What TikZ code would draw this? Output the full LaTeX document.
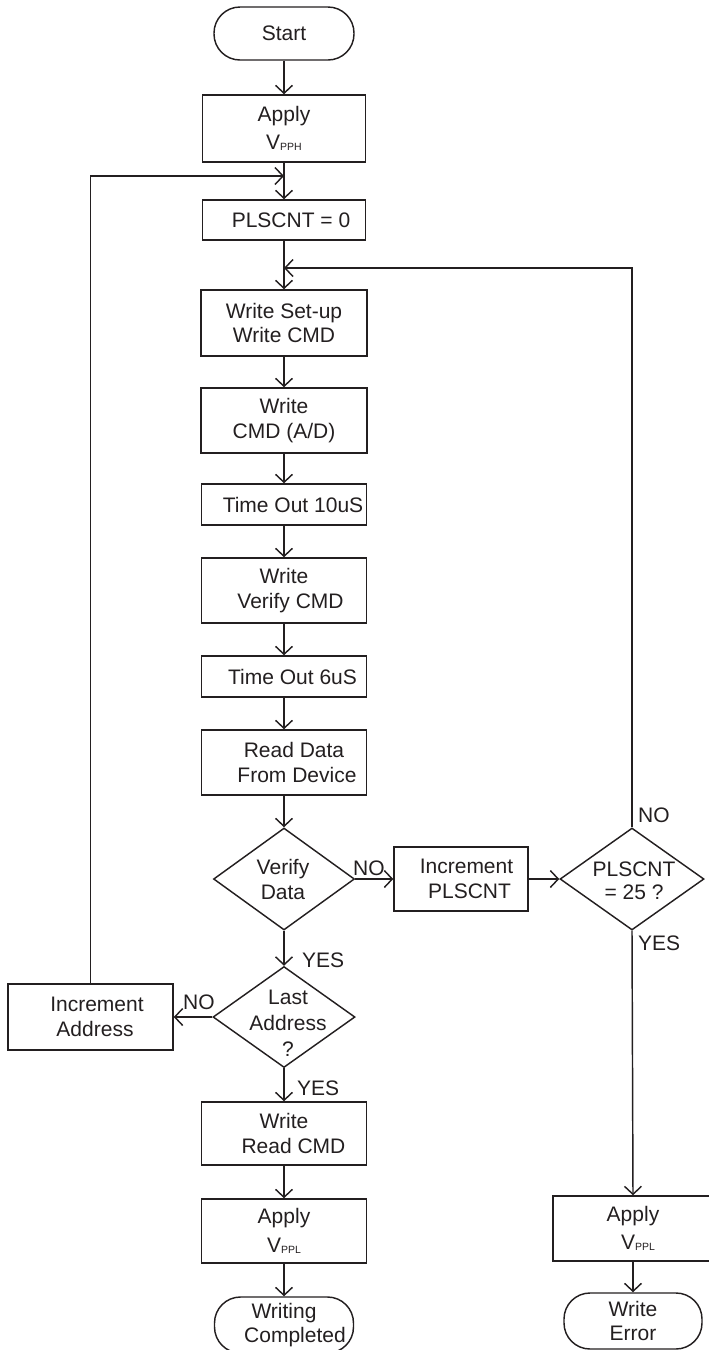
\documentclass[tikz,border=0pt]{standalone}
\usepackage{fontspec}
\setmainfont{Liberation Sans}
\usetikzlibrary{arrows.meta,shapes.geometric}
\definecolor{ink}{HTML}{231F20}
\newcommand\vsub[1]{{\fontsize{10.5}{10.5}\selectfont\raisebox{-1pt}{#1}}}
\begin{document}
\begin{tikzpicture}[x=1pt,y=-1pt,
  base/.style={draw=ink, line width=1.45pt, text=ink, font=\fontsize{21}{24.5}\selectfont, align=center, inner sep=0pt},
  procbox/.style={base, rectangle},
  applybox/.style={base, rectangle, font=\fontsize{21}{28.5}\selectfont},
  termbox/.style={base, rectangle, rounded corners=26pt},
  diabox/.style={base, diamond},
  dtext/.style={text=ink, align=center, inner sep=0pt},
  lbl/.style={text=ink, font=\fontsize{21}{24}\selectfont, inner sep=0pt, anchor=west},
  arr/.style={draw=ink, line width=1.45pt, -{Straight Barb[length=8pt,width=17pt]}},
]
\useasboundingbox (0,0) rectangle (709,1350);

% main column
\node[termbox, minimum width=140pt, minimum height=53pt] (start) at (284,33.5) {Start};
\node[applybox, minimum width=163pt, minimum height=67pt] (apph) at (284,128.5) {Apply\\V\vsub{PPH}};
\node[procbox, minimum width=163pt, minimum height=40pt] (pl0) at (284,220) {\hspace*{14pt}PLSCNT = 0};
\node[procbox, minimum width=166pt, minimum height=66pt] (ws) at (284,323) {Write Set-up\\Write CMD};
\node[procbox, minimum width=166pt, minimum height=65pt] (wc) at (284,420.5) {Write\\CMD (A/D)};
\node[procbox, minimum width=165pt, minimum height=41pt] (to10) at (284,504.5) {\hspace*{18pt}Time Out 10uS};
\node[procbox, minimum width=165pt, minimum height=65pt] (wv) at (284,590.5) {Write\\\hspace*{13pt}Verify CMD};
\node[procbox, minimum width=165pt, minimum height=41pt] (to6) at (284,676.5) {\hspace*{17pt}Time Out 6uS};
\node[procbox, minimum width=165pt, minimum height=65pt] (rd) at (284,762.5) {\hspace*{20pt}Read Data\\\hspace*{26pt}From Device};
\node[diabox, minimum width=141pt, minimum height=102pt] (vd) at (284,879) {};
\node[dtext, font=\fontsize{21}{25}\selectfont] (vdt) at (283,879) {Verify\\Data};
\node[diabox, minimum width=142pt, minimum height=101pt] (la) at (284,1017) {};
\node[dtext, font=\fontsize{21}{26}\selectfont] (lat) at (288,1023) {Last\\Address\\?};
\node[procbox, minimum width=165pt, minimum height=63pt] (wr) at (284,1133.5) {Write\\\hspace*{19pt}Read CMD};
\node[applybox, minimum width=165pt, minimum height=64pt] (apl) at (284,1231) {Apply\\V\vsub{PPL}};
\node[termbox, minimum width=139pt, minimum height=56pt] (wcomp) at (284,1325) {Writing\\\hspace*{22pt}Completed};

% right side
\node[procbox, minimum width=134pt, minimum height=64pt] (ip) at (461,879) {\hspace*{11pt}Increment\\\hspace*{17pt}PLSCNT};
\node[diabox, minimum width=144pt, minimum height=102pt] (p25) at (632,879) {};
\node[dtext, font=\fontsize{21}{23}\selectfont] (p25t) at (634,881) {PLSCNT\\= 25 ?};
\node[applybox, minimum width=160pt, minimum height=65pt] (apr) at (633,1228.5) {Apply\\\hspace*{10pt}V\vsub{PPL}};
\node[termbox, minimum width=138pt, minimum height=56pt] (werr) at (633,1321) {Write\\Error};

% left side
\node[procbox, minimum width=165pt, minimum height=66pt] (ia) at (90.5,1017) {\hspace*{13pt}Increment\\\hspace*{9pt}Address};

% junctions
\coordinate (loopA) at (284,176);
\coordinate (loopB) at (284,268);

% connectors
\draw[arr] (start) -- (apph);
\draw[arr] (apph) -- (pl0);
\draw[arr] (ia.north) |- (loopA);
\draw[arr] (pl0) -- (ws);
\draw[arr] (p25.north) |- (loopB);
\draw[arr] (ws) -- (wc);
\draw[arr] (wc) -- (to10);
\draw[arr] (to10) -- (wv);
\draw[arr] (wv) -- (to6);
\draw[arr] (to6) -- (rd);
\draw[arr] (rd) -- (vd.north);
\draw[arr] (vd.east) -- (ip.west);
\draw[arr] (ip.east) -- (p25.west);
\draw[arr] (vd.south) -- (la.north);
\draw[arr] (la.west) -- (ia.east);
\draw[arr] (la.south) -- (wr.north);
\draw[arr] (wr) -- (apl);
\draw[arr] (apl) -- (wcomp);
\draw[arr] (p25.south) -- (apr.north);
\draw[arr] (apr) -- (werr);

% labels
\node[lbl] (noA) at (353,868) {NO};
\node[lbl] (noB) at (638,815) {NO};
\node[lbl] (yesB) at (638,943) {YES};
\node[lbl] (yesA) at (302,960) {YES};
\node[lbl] (noC) at (183,1002) {NO};
\node[lbl] (yesC) at (297,1088) {YES};
\end{tikzpicture}
\end{document}
